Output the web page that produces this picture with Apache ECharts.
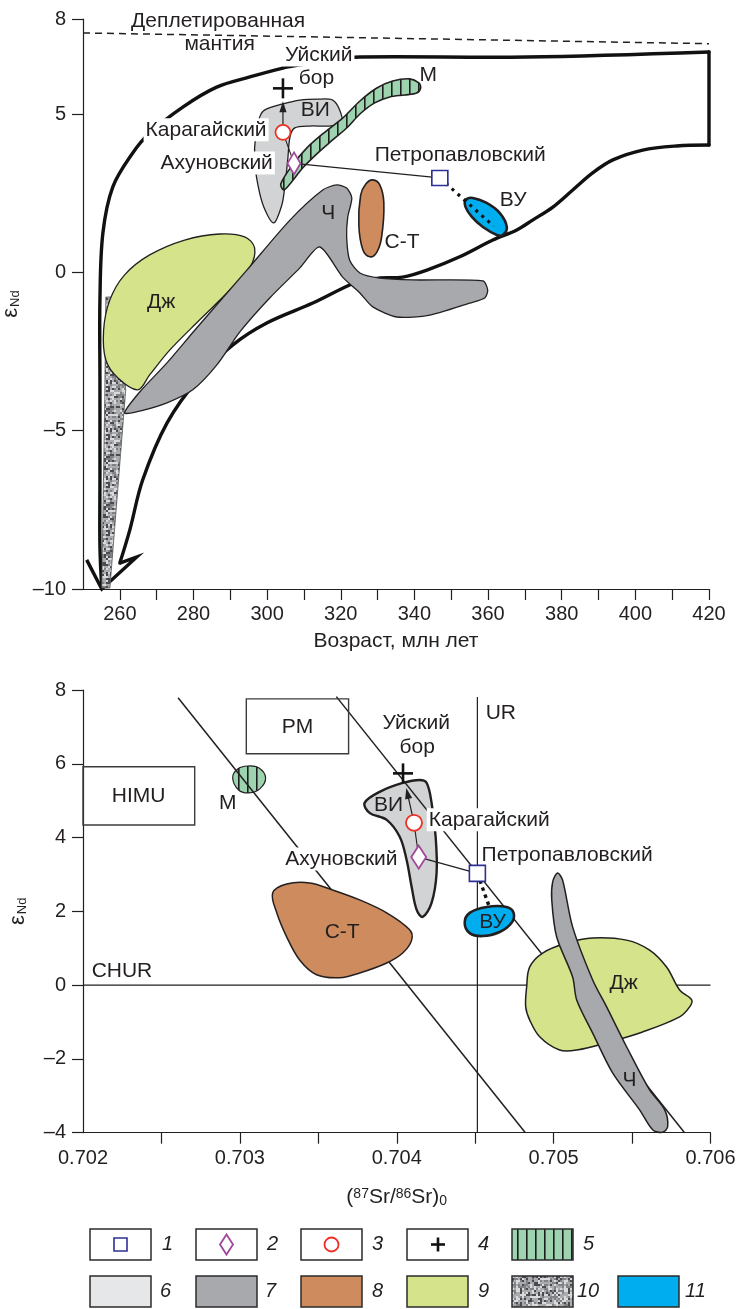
<!DOCTYPE html>
<html><head><meta charset="utf-8">
<script src="https://cdn.jsdelivr.net/npm/echarts@6.0.0/dist/echarts.min.js"></script>
<style>html,body{margin:0;padding:0;background:#fff;}#chart{width:747px;height:1309px;}</style>
</head><body><div id="chart"></div>
<script>
// ================= DATA: upper panel (age, Ma vs eNd) =================
const topXTicks = [260,270,280,290,300,310,320,330,340,350,360,370,380,390,400,410,420];
const topXLabels = [260,280,300,320,340,360,380,400,420];
const topYTicks = [-10,-5,0,5,8];

const depletedMantle = [[250,7.56],[420,7.22]];
const envelopeUpper = [[255.1,-9.97],[254.6,-8.67],[254.6,-6.56],[254.6,-3.40],[254.6,-0.87],[255.4,1.24],[258.1,2.70],[263.5,3.77],[268.1,4.40],[277.1,5.22],[286.3,5.85],[295.3,6.17],[304.3,6.45],[308.9,6.55],[317.0,6.71],[325.2,6.80],[370.5,6.80],[420,6.96]];
const envelopeSide = [[420,6.96],[420,4.02]];
const envelopeLower = [[420,4.02],[411.2,3.99],[402.0,3.86],[393.9,3.55],[388.4,3.14],[383.0,2.60],[377.6,2.06],[372.1,1.65],[367.8,1.34],[361.3,1.02],[352.3,0.49],[343.4,0.07],[336.8,-0.15],[330.6,-0.18],[326.5,-0.24],[322.4,-0.40],[312.4,-0.97],[299.9,-1.60],[290.7,-2.29],[281.7,-3.30],[272.8,-4.76],[266.2,-6.56],[262.7,-8.14],[260.0,-9.18]];
const envelopeHeads = [[260.0,-9.18],[264.6,-8.99],[255.1,-10.0],[251.0,-9.08]];

const topTexture = [[256.2,-0.78],[259.4,-0.78],[261.6,-3.71],[257.3,-9.97],[255.1,-9.97],[255.9,-4.03]];
const topDzh = [[264.9,-3.71],[259.5,-3.34],[256.2,-2.77],[255.6,-1.82],[257.3,-0.87],[261.3,-0.08],[268.1,0.55],[277.6,1.02],[287.1,1.21],[293.9,1.12],[296.6,0.77],[295.3,0.14],[289.9,-0.56],[281.7,-1.50],[273.6,-2.45],[268.1,-3.24]];
const topCh = [[261.3,-4.44],[265.4,-3.78],[272.8,-2.86],[280.4,-1.82],[294.5,0.07],[306.2,1.65],[315.1,2.60],[318.9,2.76],[321.6,2.66],[323.0,2.35],[321.9,1.75],[321.6,1.12],[322.4,0.39],[325.2,-0.02],[330.6,-0.18],[339.6,-0.24],[358.6,-0.27],[359.9,-0.56],[359.1,-0.81],[355.0,-0.97],[344.2,-1.35],[335.2,-1.41],[328.7,-1.09],[325.2,-0.65],[320.5,-0.15],[314.3,0.80],[308.9,0.14],[300.7,-0.81],[292.6,-1.88],[286.3,-2.93],[279.8,-3.71],[272.8,-4.12],[265.4,-4.38]];
const topVI = [[299.4,5.13],[304.3,5.32],[308.9,5.44],[313.8,5.47],[317.8,5.44],[319.7,5.13],[320.3,4.72],[317.0,4.62],[311.6,4.62],[307.5,4.56],[306.2,4.27],[305.6,3.55],[304.8,2.70],[304.0,2.13],[301.8,1.56],[299.1,2.06],[297.5,2.76],[296.6,3.55],[296.9,4.34],[298.0,4.91]];
const topM = [[303.7,2.79],[306.7,3.36],[310.8,3.93],[315.7,4.43],[320.5,4.87],[325.2,5.41],[329.8,5.82],[334.1,6.04],[338.7,6.11],[341.2,5.98],[341.7,5.82],[340.6,5.66],[337.4,5.60],[333.3,5.54],[329.2,5.35],[325.2,5.00],[321.9,4.59],[317.8,4.18],[313.8,3.77],[309.7,3.30],[306.2,2.79],[304.5,2.60]];
const topCT = [[328.7,2.92],[330.6,2.76],[331.7,2.19],[331.1,1.12],[329.8,0.64],[327.9,0.49],[326.0,0.71],[324.9,1.50],[325.4,2.44],[326.8,2.79]];
const topVU = [[353.9,2.28],[355.8,2.35],[359.6,2.19],[363.2,1.87],[365.1,1.43],[364.0,1.18],[362.4,1.18],[358.6,1.43],[355.6,1.75],[353.9,2.06]];

const topSquarePts = [[346.9,2.98]];   // Петропавловский
const topDiamondPts = [[307.3,3.44]];  // Ахуновский
const topCirclePts = [[304.3,4.42]];   // Карагайский
const topCrossPts = [[304.3,5.81]];    // Уйский бор
const topLink = [[307.3,3.44],[346.9,2.98]];
const topLinkUp = [[307.3,3.44],[304.3,4.42]];
const topArrow = [[304.3,4.42],[304.3,5.81]];
const topDotted = [[346.9,2.98],[361.5,1.46]];

const topLabels = [
  ['Деплетированная',286.7,7.92],['мантия',287.1,7.21],['Уйский',304.3,6.86],['бор',313.4,6.12],
  ['ВИ',313.1,5.13],['М',341.4,6.23],['Карагайский',300.4,4.50],['Ахуновский',302.1,3.45],
  ['Петропавловский',329.2,3.71],['ВУ',363.2,2.28],['С-Т',331.9,0.96],['Ч',316.6,1.87],['Дж',271.2,-0.94]
];

// ================= DATA: lower panel (87Sr/86Sr vs eNd) =================
const botXTicks = [0.7025,0.703,0.7035,0.704,0.7045,0.705,0.7055,0.706];
const botXLabels = [0.702,0.703,0.704,0.705,0.706];
const botYTicks = [-4,-2,0,2,4,6,8];

const himuBox = [[0.702,5.92],[0.702712,5.92],[0.702712,4.34],[0.702,4.34]];
const pmBox = [[0.703041,7.76],[0.703693,7.76],[0.703693,6.27],[0.703041,6.27]];
const mixLine1 = [[0.702606,7.79],[0.704820,-4]];
const mixLine2 = [[0.703615,7.82],[0.705835,-4]];
const urLine = [[0.704514,7.81],[0.704514,-4]];
const churLine = [[0.702,0],[0.706,0]];

const botM = [[0.702954,5.62],[0.702986,5.86],[0.703050,5.94],[0.703120,5.89],[0.703164,5.62],[0.703127,5.32],[0.703057,5.21],[0.702992,5.29]];
const botCT = [[0.703209,2.50],[0.703298,2.74],[0.703445,2.77],[0.703591,2.58],[0.703764,2.31],[0.703936,1.96],[0.704082,1.50],[0.704095,1.22],[0.704038,0.87],[0.703936,0.60],[0.703764,0.33],[0.703636,0.20],[0.703489,0.28],[0.703381,0.68],[0.703298,1.31],[0.703235,1.96]];
const botVI = [[0.703795,4.94],[0.703891,5.24],[0.704038,5.48],[0.704146,5.56],[0.704191,5.48],[0.704222,4.94],[0.704248,4.02],[0.704254,3.04],[0.704222,2.23],[0.704165,1.85],[0.704127,2.04],[0.704095,2.66],[0.704063,3.39],[0.704019,4.02],[0.703936,4.48],[0.703827,4.67]];
const botVU = [[0.704433,1.69],[0.704465,1.96],[0.704573,2.12],[0.704700,2.12],[0.704745,1.96],[0.704732,1.69],[0.704656,1.44],[0.704548,1.33],[0.704465,1.41]];
const botDzh = [[0.704828,-0.05],[0.704847,0.49],[0.704930,0.87],[0.705083,1.14],[0.705249,1.28],[0.705465,1.22],[0.705612,0.95],[0.705720,0.49],[0.705803,-0.13],[0.705880,-0.40],[0.705867,-0.59],[0.705803,-0.86],[0.705567,-1.27],[0.705357,-1.54],[0.705147,-1.76],[0.705038,-1.76],[0.704911,-1.40],[0.704847,-0.94],[0.704822,-0.59]];
const botCh = [[0.705025,3.04],[0.705057,2.85],[0.705121,1.58],[0.705249,0.14],[0.705338,-0.59],[0.705465,-1.67],[0.705612,-2.84],[0.705708,-3.38],[0.705727,-3.84],[0.705694,-3.99],[0.705631,-3.92],[0.705548,-3.38],[0.705376,-2.38],[0.705249,-1.30],[0.705147,-0.40],[0.705121,0.22],[0.705019,1.31],[0.704988,2.31],[0.704994,2.80]];

const botSquarePts = [[0.704514,3.03]];
const botDiamondPts = [[0.704140,3.47]];
const botCirclePts = [[0.704110,4.40]];
const botCrossPts = [[0.704040,5.74]];
const botLink = [[0.704140,3.47],[0.704514,3.03]];
const botLinkUp = [[0.704140,3.47],[0.704110,4.40]];
const botArrow = [[0.704110,4.40],[0.704040,5.74]];
const botDotted = [[0.704514,3.03],[0.704586,2.17]];

const botLabels = [
  ['HIMU',0.702355,5.13],['PM',0.703368,7.0],['UR',0.704567,7.38],['CHUR',0.702055,0.38],
  ['М',0.702922,4.94],['С-Т',0.703652,1.44],['ВИ',0.703948,4.88],['ВУ',0.704611,1.71],
  ['Дж',0.705446,0.06],['Ч',0.705484,-2.57],['Уйский',0.704124,7.11],['бор',0.704130,6.46],
  ['Карагайский',0.704191,4.48],['Ахуновский',0.704018,3.42],['Петропавловский',0.704541,3.53]
];

const legendNumbers = ['1','2','3','4','5','6','7','8','9','10','11'];

// ================= STYLE =================
const FONT = '"Liberation Sans", Arial, Helvetica, sans-serif';
const INK = '#231f20';
const LBL = 21;
const C = {vi:'#d1d3d4', viLegend:'#e6e7e8', ch:'#a7a9ac', ct:'#cd8b5e', dzh:'#d5e38b', vu:'#00aeef', m:'#9dd3ae',
           sq:'#2e3192', dia:'#a1479b', circ:'#ee3124'};
const topAlign = {'Деплетированная':'center','мантия':'center','Уйский':'left','бор':'center','ВИ':'center','М':'left',
  'Карагайский':'right','Ахуновский':'right','Петропавловский':'left','ВУ':'left','С-Т':'left','Ч':'center','Дж':'center'};
const topBg = {'Уйский':1,'Карагайский':1,'Ахуновский':1};
const botAlign = {'HIMU':'center','PM':'center','UR':'left','CHUR':'left','М':'center','С-Т':'center','ВИ':'center','ВУ':'center',
  'Дж':'center','Ч':'center','Уйский':'center','бор':'center','Карагайский':'left','Ахуновский':'right','Петропавловский':'left'};
const botBg = {'Карагайский':1,'Ахуновский':1};

function stripeCanvas() {
  const c = document.createElement('canvas'); c.width = 9; c.height = 6;
  const g = c.getContext('2d');
  g.fillStyle = C.m; g.fillRect(0,0,9,6);
  g.fillStyle = '#1e1e1e'; g.fillRect(4,0,1.6,6);
  return c;
}
function textureCanvas() {
  const n = 48, c = document.createElement('canvas'); c.width = n; c.height = n;
  const g = c.getContext('2d');
  g.fillStyle = '#a9abae'; g.fillRect(0,0,n,n);
  for (let y = 0; y < n; y += 2) for (let x = 0; x < n; x += 2) {
    let h = Math.imul(x * 31 + 7, 0x9E3779B1) ^ Math.imul(y * 17 + 3, 0x85EBCA6B);
    h = Math.imul(h ^ (h >>> 15), 0x2C1B3C6D); h = (h ^ (h >>> 12)) >>> 0;
    const r = h % 100;
    let col = null;
    if (r < 16) col = '#4a4b4e'; else if (r < 40) col = '#d9dadb'; else if (r < 62) col = '#808285';
    if (col) { g.fillStyle = col; g.fillRect(x, y, 2, 2); }
  }
  return c;
}
const stripeFill = {image: stripeCanvas(), repeat: 'repeat'};
const textureFill = {image: textureCanvas(), repeat: 'repeat'};

function shape(pts, grid, z, style, closed, smooth) {
  return {
    type: 'custom', xAxisIndex: grid, yAxisIndex: grid, z: z, silent: true, animation: false,
    encode: {x: 0, y: 1}, data: pts,
    renderItem: function (params, api) {
      if (params.dataIndex !== 0) return null;
      const p = pts.map(function (d) { return api.coord(d); });
      return {type: closed ? 'polygon' : 'polyline', shape: {points: p, smooth: smooth || 0}, style: style};
    }
  };
}
function arrow(pair, grid, gap, z) {
  return {
    type: 'custom', xAxisIndex: grid, yAxisIndex: grid, z: z, silent: true, animation: false,
    encode: {x: 0, y: 1}, data: pair,
    renderItem: function (params, api) {
      if (params.dataIndex !== 0) return null;
      const a = api.coord(pair[0]), b = api.coord(pair[1]);
      const dx = b[0] - a[0], dy = b[1] - a[1], L = Math.hypot(dx, dy), ux = dx / L, uy = dy / L;
      const tip = [b[0] - ux * gap, b[1] - uy * gap];
      const hl = 11, hw = 3.6;
      const base = [tip[0] - ux * hl, tip[1] - uy * hl];
      return {type: 'group', children: [
        {type: 'line', shape: {x1: a[0], y1: a[1], x2: base[0] + ux * 2, y2: base[1] + uy * 2}, style: {stroke: INK, lineWidth: 1.2}},
        {type: 'polygon', shape: {points: [tip, [base[0] - uy * hw, base[1] + ux * hw], [base[0] + uy * hw, base[1] - ux * hw]]}, style: {fill: INK}}
      ]};
    }
  };
}
function cross(pts, grid, z) {
  return {
    type: 'custom', xAxisIndex: grid, yAxisIndex: grid, z: z, silent: true, animation: false,
    encode: {x: 0, y: 1}, data: pts,
    renderItem: function (params, api) {
      const c = api.coord([api.value(0), api.value(1)]);
      const s = {stroke: '#111', lineWidth: 2.6};
      return {type: 'group', children: [
        {type: 'line', shape: {x1: c[0] - 10, y1: c[1], x2: c[0] + 10, y2: c[1]}, style: s},
        {type: 'line', shape: {x1: c[0], y1: c[1] - 10, x2: c[0], y2: c[1] + 10}, style: s}
      ]};
    }
  };
}
function labels(list, grid, alignMap, bgMap, z) {
  return {
    type: 'custom', xAxisIndex: grid, yAxisIndex: grid, z: z, silent: true, animation: false,
    encode: {x: 0, y: 1}, data: list.map(function (l) { return [l[1], l[2]]; }),
    renderItem: function (params, api) {
      const l = list[params.dataIndex];
      const c = api.coord([api.value(0), api.value(1)]);
      const bg = bgMap[l[0]];
      return {type: 'text', x: c[0], y: c[1], style: {
        text: l[0], fill: INK, fontSize: LBL, fontFamily: FONT,
        align: alignMap[l[0]], verticalAlign: 'middle',
        backgroundColor: bg ? '#fff' : 'transparent', padding: bg ? [1, 2, 1, 2] : 0
      }};
    }
  };
}
function marker(pts, grid, symbol, size, color, bw, z) {
  return {type: 'scatter', xAxisIndex: grid, yAxisIndex: grid, z: z, silent: true, animation: false,
    data: pts, symbol: symbol, symbolSize: size,
    itemStyle: {color: '#fff', borderColor: color, borderWidth: bw, opacity: 1}};
}

const thin = {fill: 'none', stroke: INK, lineWidth: 1.3};
const fillS = function (f, w) { return {fill: f, stroke: INK, lineWidth: w || 1.3}; };
const thick = {fill: 'none', stroke: '#111', lineWidth: 3.4, lineJoin: 'round', lineCap: 'round'};

const series = [
  // ---- upper panel ----
  shape(depletedMantle, 0, 2, {fill: 'none', stroke: INK, lineWidth: 1.5, lineDash: [7, 5]}, false, 0),
  shape(envelopeUpper, 0, 2, thick, false, 0.35),
  shape(envelopeSide, 0, 2, thick, false, 0),
  shape(envelopeLower, 0, 2, thick, false, 0.35),
  shape(envelopeHeads, 0, 2, {fill: 'none', stroke: '#111', lineWidth: 3.4, lineJoin: 'miter', lineCap: 'butt'}, false, 0),
  shape(topTexture, 0, 3, {fill: textureFill, stroke: '#555', lineWidth: 0.8}, true, 0),
  shape(topDzh, 0, 4, fillS(C.dzh), true, 0.35),
  shape(topCh, 0, 5, fillS(C.ch), true, 0.25),
  shape(topVI, 0, 6, fillS(C.vi), true, 0.3),
  shape(topM, 0, 7, fillS(stripeFill, 1.6), true, 0.3),
  shape(topCT, 0, 8, fillS(C.ct, 1.6), true, 0.4),
  shape(topVU, 0, 9, fillS(C.vu, 2.6), true, 0.4),
  shape(topLink, 0, 10, thin, false, 0),
  shape(topLinkUp, 0, 10, {fill: 'none', stroke: INK, lineWidth: 1.1}, false, 0),
  shape(topDotted, 0, 11, {fill: 'none', stroke: '#111', lineWidth: 3.2, lineDash: [3, 5]}, false, 0),
  arrow(topArrow, 0, 13, 11),
  marker(topSquarePts, 0, 'rect', [16, 15], C.sq, 1.6, 12),
  marker(topDiamondPts, 0, 'diamond', [13, 22], C.dia, 1.8, 12),
  marker(topCirclePts, 0, 'circle', 15, C.circ, 1.8, 12),
  cross(topCrossPts, 0, 12),
  labels(topLabels, 0, topAlign, topBg, 14),
  // ---- lower panel ----
  shape(botVI, 1, 3, fillS(C.vi, 2.4), true, 0.35),
  shape(botM, 1, 3, fillS(stripeFill, 1.2), true, 0.4),
  shape(mixLine1, 1, 4, {fill: 'none', stroke: INK, lineWidth: 1.5}, false, 0),
  shape(mixLine2, 1, 4, {fill: 'none', stroke: INK, lineWidth: 1.5}, false, 0),
  shape(urLine, 1, 4, {fill: 'none', stroke: INK, lineWidth: 1.2}, false, 0),
  shape(churLine, 1, 4, {fill: 'none', stroke: INK, lineWidth: 1.2}, false, 0),
  shape(himuBox, 1, 4, {fill: 'none', stroke: '#3c3c3c', lineWidth: 1.4}, true, 0),
  shape(pmBox, 1, 4, {fill: 'none', stroke: '#3c3c3c', lineWidth: 1.4}, true, 0),
  shape(botCT, 1, 5, fillS(C.ct, 1.5), true, 0.35),
  shape(botVU, 1, 5, fillS(C.vu, 2.6), true, 0.4),
  shape(botDzh, 1, 5, fillS(C.dzh, 1.5), true, 0.35),
  shape(botCh, 1, 6, fillS(C.ch, 1.5), true, 0.3),
  shape(botLink, 1, 10, thin, false, 0),
  shape(botLinkUp, 1, 10, {fill: 'none', stroke: INK, lineWidth: 1.1}, false, 0),
  shape(botDotted, 1, 11, {fill: 'none', stroke: '#111', lineWidth: 3.4, lineDash: [3.5, 4]}, false, 0),
  arrow(botArrow, 1, 15, 11),
  marker(botSquarePts, 1, 'rect', [16, 16], C.sq, 1.6, 12),
  marker(botDiamondPts, 1, 'diamond', [15, 23], C.dia, 1.8, 12),
  marker(botCirclePts, 1, 'circle', 16, C.circ, 1.8, 12),
  cross(botCrossPts, 1, 12),
  labels(botLabels, 1, botAlign, botBg, 14)
];

// ---- legend (graphic) ----
const legendGraphic = [];
const colX = [90, 196, 301, 407, 512, 618];
const rowY = [1229, 1276];
const BW = 61, BH = 31;
function box(x, y, fill) {
  legendGraphic.push({type: 'rect', shape: {x: x, y: y, width: BW, height: BH}, style: {fill: fill, stroke: '#2b2b2b', lineWidth: 1.5}, z: 10});
}
function num(text, x, y) {
  legendGraphic.push({type: 'text', x: x, y: y, style: {text: text, fill: INK, fontSize: 20, fontStyle: 'italic', fontFamily: FONT, verticalAlign: 'middle', align: 'left'}, z: 10});
}
const row1Fill = ['#fff', '#fff', '#fff', '#fff', stripeFill];
for (let i = 0; i < 5; i++) { box(colX[i], rowY[0], row1Fill[i]); }
const row2Fill = [C.viLegend, C.ch, C.ct, C.dzh, textureFill, C.vu];
for (let i = 0; i < 6; i++) { box(colX[i], rowY[1], row2Fill[i]); }
const cy1 = rowY[0] + BH / 2, cy2 = rowY[1] + BH / 2;
legendGraphic.push({type: 'rect', shape: {x: colX[0] + 24, y: cy1 - 6.5, width: 13, height: 13}, style: {fill: '#fff', stroke: C.sq, lineWidth: 1.6}, z: 11});
legendGraphic.push({type: 'polygon', shape: {points: [[colX[1] + 30.5, cy1 - 10], [colX[1] + 37, cy1], [colX[1] + 30.5, cy1 + 10], [colX[1] + 24, cy1]]}, style: {fill: '#fff', stroke: C.dia, lineWidth: 1.8}, z: 11});
legendGraphic.push({type: 'circle', shape: {cx: colX[2] + 30.5, cy: cy1, r: 7}, style: {fill: '#fff', stroke: C.circ, lineWidth: 1.8}, z: 11});
legendGraphic.push({type: 'line', shape: {x1: colX[3] + 24, y1: cy1, x2: colX[3] + 38, y2: cy1}, style: {stroke: '#111', lineWidth: 2.6}, z: 11});
legendGraphic.push({type: 'line', shape: {x1: colX[3] + 31, y1: cy1 - 7, x2: colX[3] + 31, y2: cy1 + 7}, style: {stroke: '#111', lineWidth: 2.6}, z: 11});
const numX = [162, 267, 372, 478, 583, 160, 265, 372, 478, 577, 685];
for (let i = 0; i < 11; i++) { num(legendNumbers[i], numX[i], i < 5 ? cy1 : cy2); }

const axisLine = {show: true, onZero: false, lineStyle: {color: INK, width: 1.2}};
const tickStyle = {color: INK, width: 1.2};
const labelBase = {color: INK, fontSize: 20, fontFamily: FONT};
const dash = function (v) { return v < 0 ? '\u2013' + Math.abs(v) : String(v); };
const epsName = '{e|\u03b5}{s|Nd}';
const epsRich = {e: {fontSize: 22, fontFamily: FONT, color: INK}, s: {fontSize: 13, fontFamily: FONT, color: INK, verticalAlign: 'bottom', padding: [0, 0, 0, 1]}};

const option = {
  animation: false,
  backgroundColor: '#fff',
  textStyle: {fontFamily: FONT},
  grid: [
    {left: 83, top: 19, width: 626, height: 570, containLabel: false, outerBoundsMode: 'none'},
    {left: 83, top: 690, width: 627.5, height: 442.7, containLabel: false, outerBoundsMode: 'none'}
  ],
  xAxis: [
    {gridIndex: 0, type: 'value', min: 250, max: 420, interval: 10,
     axisLine: axisLine, splitLine: {show: false},
     axisTick: {show: true, length: 11, lineStyle: tickStyle, customValues: topXTicks},
     axisLabel: Object.assign({margin: 15, customValues: topXLabels,
       formatter: function (v) { return topXLabels.indexOf(Math.round(v)) >= 0 ? String(Math.round(v)) : ''; }}, labelBase),
     name: 'Возраст, млн лет', nameLocation: 'middle', nameGap: 42,
     nameTextStyle: {color: INK, fontSize: 21, fontFamily: FONT}},
    {gridIndex: 1, type: 'value', min: 0.702, max: 0.706, interval: 0.0005,
     axisLine: axisLine, splitLine: {show: false},
     axisTick: {show: true, length: 11, lineStyle: tickStyle, customValues: botXTicks},
     axisLabel: Object.assign({margin: 16, customValues: botXLabels,
       formatter: function (v) { return Math.abs(v * 1000 - Math.round(v * 1000)) < 1e-6 ? v.toFixed(3) : ''; }}, labelBase),
     name: '({p|87}Sr/{p|86}Sr){b|0}', nameLocation: 'middle', nameGap: 54,
     nameTextStyle: {color: INK, fontSize: 21, fontFamily: FONT,
       rich: {p: {fontSize: 14, fontFamily: FONT, color: INK, verticalAlign: 'top'}, b: {fontSize: 14, fontFamily: FONT, color: INK, verticalAlign: 'bottom'}}}}
  ],
  yAxis: [
    {gridIndex: 0, type: 'value', min: -10, max: 8, interval: 5,
     axisLine: axisLine, splitLine: {show: false},
     axisTick: {show: true, length: 11, lineStyle: tickStyle, customValues: topYTicks},
     axisLabel: Object.assign({margin: 17, customValues: topYTicks, formatter: dash}, labelBase),
     name: epsName, nameLocation: 'middle', nameGap: 54, nameRotate: 90,
     nameTextStyle: {color: INK, fontSize: 20, fontFamily: FONT, rich: epsRich}},
    {gridIndex: 1, type: 'value', min: -4, max: 8, interval: 2,
     axisLine: axisLine, splitLine: {show: false},
     axisTick: {show: true, length: 11, lineStyle: tickStyle, customValues: botYTicks},
     axisLabel: Object.assign({margin: 17, customValues: botYTicks, formatter: dash}, labelBase),
     name: epsName, nameLocation: 'middle', nameGap: 54, nameRotate: 90,
     nameTextStyle: {color: INK, fontSize: 20, fontFamily: FONT, rich: epsRich}}
  ],
  graphic: legendGraphic,
  series: series
};

const chart = echarts.init(document.getElementById('chart'), null, {renderer: 'canvas', width: 747, height: 1309});
chart.setOption(option);
</script></body></html>
